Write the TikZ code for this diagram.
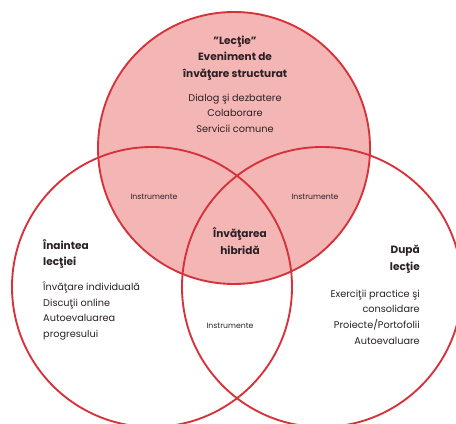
\documentclass[tikz,border=0pt]{standalone}
\usepackage{fontspec}
\setmainfont{Poppins}
\usetikzlibrary{positioning}
\definecolor{vred}{HTML}{D6323A}
\definecolor{vpink}{HTML}{F4B5B5}
\definecolor{vtext}{HTML}{2B2024}

\begin{document}
\begin{tikzpicture}[x=0.03cm,y=0.03cm,
  ring/.style={draw=vred,line width=1.6pt},
  head/.style={font=\fontsize{9}{14.2}\selectfont\bfseries,text=vtext,inner sep=0pt},
  item/.style={font=\fontsize{8.3}{13.3}\selectfont,text=vtext,inner sep=0pt},
  tool/.style={font=\fontsize{6.6}{7}\selectfont,text=vtext,inner sep=0pt}]
\useasboundingbox (0,0) rectangle (456,423);
\begin{scope}
\clip (0,0) rectangle (456,423);
\fill[vpink] (234,275) circle (136);
\draw[ring] (152,136) circle (140);
\draw[ring] (322,136) circle (140);
\draw[ring] (234,275) circle (136);
\end{scope}
\node[head,align=center] (lectie) at (235,365) {"Lecţie"\\Eveniment de\\învăţare structurat};
\node[item,align=center] (lectielist) at (235,310) {Dialog şi dezbatere\\Colaborare\\Servicii comune};
\node[head,align=left,anchor=west] (inainte) at (43,169) {Înaintea\\lecţiei};
\node[item,align=left,anchor=west] (inaintelist) at (43,112) {Învăţare individuală\\Discuţii online\\Autoevaluarea\\progresului};
\node[head,align=right,anchor=east] (dupa) at (420,164) {După\\lecţie};
\node[item,align=right,anchor=east] (dupalist) at (420,106) {Exerciţii practice şi\\consolidare\\Proiecte/Portofolii\\Autoevaluare};
\node[head,align=center] (hibrid) at (240,182) {Învăţarea\\hibridă};
\node[tool] (toolleft) at (154,226) {Instrumente};
\node[tool] (toolright) at (315,226) {Instrumente};
\node[tool] (toolbottom) at (230,97) {Instrumente};
\end{tikzpicture}
\end{document}
